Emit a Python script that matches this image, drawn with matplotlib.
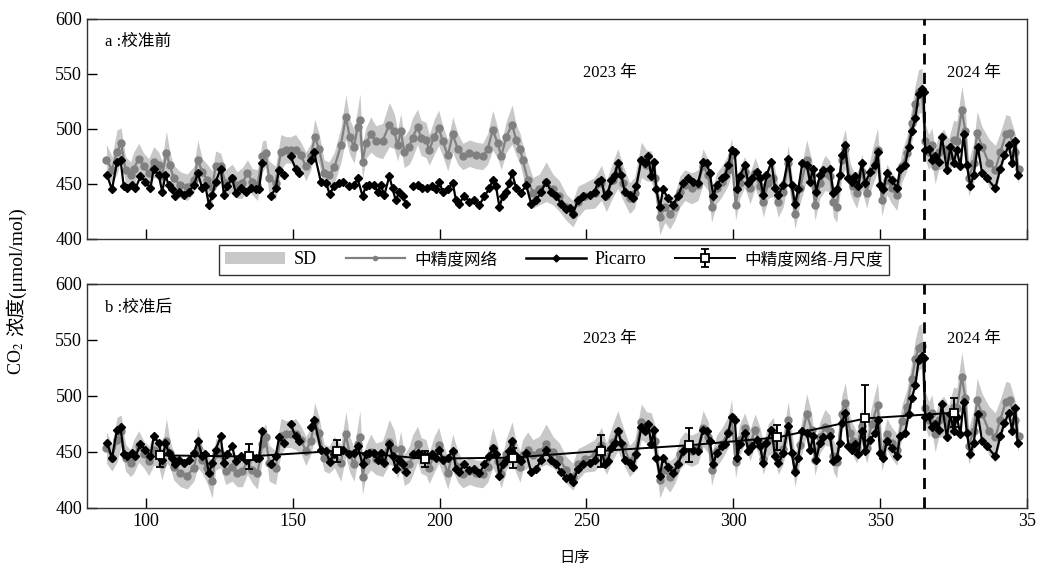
import numpy as np
import matplotlib
matplotlib.use("Agg")
import matplotlib.pyplot as plt
from matplotlib.patches import Patch
from matplotlib.lines import Line2D

plt.rcParams['font.family'] = ['Liberation Serif', 'Noto Sans CJK SC', 'DejaVu Sans']
plt.rcParams['mathtext.fontset'] = 'stix'

nan = np.nan

# Picarro daily values (day of year, continuing past 365 into 2024)
pic_day = [86.8, 88.5, 90.2, 91.4, 92.5, 93.6, 95.3, 96.5, 98.2, 99.9, 101.6, 102.7, 104.4, 105.6,
           106.7, 107.8, 109.0, 110.1, 111.3, 113.0, 114.7, 116.4, 117.7, 119.2, 120.3, 121.5, 122.6,
           123.8, 125.5, 126.6, 127.7, 129.4, 130.6, 132.3, 134.0, 135.7, 137.4, 138.5, 139.7, 141.0,
           142.5, 144.2, 145.4, 147.1, 148.0, 149.3, 151.0, 152.2, 154.0, 156.2, 157.3, 159.6, 161.3,
           162.6, 164.1, 165.8, 167.0, 168.0, 169.2, 170.9, 172.1, 173.8, 174.9, 176.0, 177.7, 178.9,
           180.0, 181.2, 182.9, 184.0, 185.1, 186.3, 187.4, 188.6, 189.7, 190.8, 192.5, 194.2, 195.9,
           197.6, 198.8, 199.9, 201.1, 202.8, 204.5, 205.6, 206.7, 208.4, 210.2, 211.9, 213.6, 215.3,
           217.0, 218.1, 219.2, 220.4, 221.5, 222.7, 223.8, 224.7, 226.1, 227.8, 229.5, 231.2, 232.9,
           234.6, 236.3, 238.0, 239.7, 241.4, 243.1, 244.3, 245.4, 247.1, 248.8, 251.1, 252.8, 254.0,
           255.1, 256.2, 257.3, 258.5, 259.6, 260.7, 261.9, 263.0, 264.7, 265.9, 267.0, 268.7, 269.8,
           271.0, 272.1, 273.0, 273.8, 275.0, 276.1, 277.8, 279.5, 281.2, 282.9, 284.6, 286.3, 288.0,
           289.7, 290.9, 292.0, 293.2, 294.3, 296.0, 297.1, 298.3, 299.4, 300.5, 301.4, 302.2, 303.9,
           305.1, 306.2, 307.9, 309.1, 310.2, 311.3, 313.0, 314.2, 315.3, 317.0, 318.7, 319.9, 321.0,
           322.1, 323.5, 325.0, 326.1, 327.2, 328.2, 329.5, 330.7, 332.9, 334.1, 335.2, 336.3, 337.0,
           338.1, 339.2, 340.3, 341.5, 342.6, 343.7, 344.9, 346.6, 348.3, 349.1, 350.0, 351.1, 352.3,
           354.0, 355.7, 356.8, 358.5, 359.7, 360.8, 362.0, 363.1, 364.2, 364.8, 365.3, 366.5, 367.6,
           368.7, 369.9, 371.0, 372.7, 373.9, 375.0, 376.1, 377.3, 378.4, 379.5, 380.7, 381.8, 383.2,
           384.7, 386.4, 389.2, 390.9, 392.3, 393.8, 394.9, 396.0, 396.8]
pic_val = [458, 445, 470, 472, 448, 446, 449, 446, 457, 452, 446, 464, 458, 443,
           458, 449, 445, 439, 443, 440, 443, 449, 460, 446, 448, 431, 440,
           452, 464, 440, 448, 455, 442, 446, 443, 446, 445, 445, 469, nan,
           439, 446, 463, 458, nan, 475, 464, 460, nan, 472, 479, 452, 451,
           441, 448, 451, 452, nan, 448, 449, 455, 439, 448, 449, 449, 443,
           449, 440, 457, 446, 435, 443, 439, 432, nan, 448, 449, 446, 446,
           448, 445, 452, 443, 445, 451, 435, 432, 439, 434, 435, 431, 439,
           446, 454, 448, 429, 439, 443, 451, 460, 446, 442, 449, 432, 435,
           443, 452, 443, 439, 432, 427, 428, 423, 435, 439, 440, 443, 452,
           454, 439, 442, 454, 458, 469, 458, 443, 440, 437, 448, 472, 469,
           475, 457, 470, 445, 429, 445, 437, 431, 439, 451, 455, 452, 451,
           470, 469, 460, 439, 449, 455, 457, 467, 481, 479, 445, 457, 467,
           451, 455, 461, 455, 440, 458, 470, 446, 440, 449, 473, 449, 432,
           445, 469, 467, 452, 464, 443, 458, 463, 464, 442, 445, 458, 476,
           485, 455, 452, 457, 448, 469, 451, 461, 467, 479, 449, 445, 460,
           454, 446, 464, 467, 484, 498, 510, 532, 536, 534, 481, 482, 472,
           475, 470, 493, 463, 484, 469, 481, 466, 495, 467, 448, 458, 484,
           460, 455, 446, 464, 476, 485, 469, 489, 458]

# 中精度网络 daily values, before (raw) and after (cal) calibration, with SD
net_day = [86.6, 88.5, 90.2, 91.6, 93.1, 94.8, 95.9, 97.6, 99.3, 101.0, 102.7, 104.4, 105.5, 107.0,
           108.2, 109.5, 111.8, 114.1, 116.4, 117.7, 119.2, 120.9, 122.6, 123.8, 125.5, 127.2, 129.4,
           131.1, 132.9, 134.6, 136.3, 138.0, 139.7, 140.8, 142.0, 144.2, 146.0, 147.6, 149.3, 151.0,
           152.8, 154.5, 156.2, 157.5, 159.0, 160.7, 162.4, 164.2, 166.4, 168.1, 169.4, 170.9, 172.1,
           172.9, 173.8, 174.9, 176.6, 178.3, 180.6, 182.9, 184.6, 185.7, 186.8, 188.0, 189.7, 190.8,
           192.5, 193.7, 195.4, 196.5, 198.2, 199.7, 201.1, 202.8, 204.5, 206.2, 207.9, 210.2, 212.4,
           214.7, 216.4, 218.1, 219.8, 221.0, 222.7, 224.7, 226.1, 227.4, 228.3, 230.0, 231.8, 234.0,
           236.3, 238.6, 240.8, 243.1, 245.4, 247.1, 249.4, 252.8, 255.1, 256.8, 259.0, 260.7, 262.5,
           264.7, 266.4, 268.7, 270.4, 272.1, 273.3, 275.0, 276.7, 278.4, 280.1, 281.8, 283.5, 285.8,
           288.0, 289.7, 291.5, 292.6, 294.3, 296.0, 298.3, 299.4, 300.8, 302.2, 303.9, 305.7, 307.4,
           309.1, 310.2, 311.9, 313.6, 315.3, 317.0, 318.7, 321.0, 322.7, 325.0, 326.7, 327.8, 329.5,
           331.2, 332.9, 334.1, 335.2, 336.9, 338.1, 339.8, 340.9, 342.0, 343.7, 345.4, 347.1, 349.1,
           350.6, 352.3, 354.0, 355.7, 357.4, 359.1, 360.8, 362.0, 363.1, 364.2, 365.3, 366.5, 367.6,
           368.7, 369.9, 371.6, 373.3, 375.0, 376.1, 377.8, 379.0, 380.1, 381.8, 383.0, 384.7, 387.0,
           389.2, 390.9, 392.8, 394.1, 396.0, 397.1]
net_raw = [472, 463, 479, 487, 463, 458, 464, 473, 466, 460, 470, 467, 457, 478,
           467, 455, 449, 447, 454, 472, 461, 454, 447, 466, 466, 451, 455,
           449, 451, 460, 452, 449, 475, 478, 455, 451, 479, 481, 481, 481,
           476, 466, 475, 493, 482, 460, 458, 465, 485, 511, 493, 484, 502,
           508, 470, 487, 495, 489, 489, 504, 498, 485, 498, 479, 484, 492,
           502, 492, 490, 481, 493, 501, 489, 476, 495, 482, 475, 478, 476,
           475, 482, 499, 487, 475, 493, 504, 490, 482, 472, 454, 442, 445,
           452, 445, 439, 429, 423, 434, 439, 442, 451, 439, 454, 464, 451,
           437, 442, 472, 467, 466, 455, 420, 429, 423, 429, 443, 449, 446,
           449, 466, 458, 429, 446, 452, 463, 476, 431, 451, 461, 446, 460,
           448, 434, 451, 455, 434, 443, 469, 423, 446, 472, 458, 431, 451,
           460, 457, 434, 429, 472, 482, 455, 448, 442, 461, 442, 463, 481,
           435, 454, 446, 440, 466, 478, 505, 523, 534, 535, 489, 479, 485,
           466, 479, 482, 475, 490, 489, 517, 498, 455, 469, 496, 484, 469,
           463, 479, 495, 496, 479, 464]
net_cal = [454, 445, 461, 469, 445, 440, 446, 455, 448, 442, 452, 449, 439, 460,
           449, 437, 431, 429, 436, 454, 443, 436, 424, 448, 448, 433, 437,
           431, 433, 442, 434, 431, 457, 463, 440, 436, 464, 466, 466, 466,
           461, 451, 460, 478, 467, 445, 443, 450, 440, 466, 448, 439, 457,
           463, 428, 442, 450, 444, 444, 459, 453, 440, 453, 434, 439, 447,
           457, 447, 445, 436, 448, 456, 444, 431, 450, 437, 430, 433, 431,
           430, 437, 454, 442, 430, 448, 459, 445, 437, 447, 452, 447, 450,
           457, 450, 444, 434, 428, 439, 444, 447, 456, 444, 459, 469, 456,
           442, 447, 477, 472, 471, 460, 425, 434, 428, 434, 448, 454, 451,
           454, 471, 463, 434, 451, 457, 468, 481, 441, 461, 471, 456, 470,
           458, 444, 461, 465, 444, 453, 479, 433, 456, 484, 470, 443, 463,
           472, 469, 446, 441, 484, 494, 467, 460, 454, 473, 454, 475, 492,
           447, 466, 458, 452, 478, 490, 515, 533, 543, 545, 489, 479, 485,
           466, 479, 482, 475, 490, 489, 517, 498, 455, 469, 496, 484, 469,
           463, 479, 495, 496, 479, 464]
net_sd = [14, 12, 20, 14, 12, 12, 15, 14, 12, 13, 14, 12, 14, 20,
          12, 12, 12, 12, 12, 18, 12, 14, 15, 14, 12, 12, 13,
          12, 14, 12, 12, 14, 14, 12, 16, 15, 16, 12, 12, 14,
          12, 13, 12, 16, 14, 12, 12, 14, 16, 20, 16, 15, 16,
          24, 16, 14, 16, 14, 16, 20, 16, 14, 16, 14, 16, 18,
          16, 16, 16, 14, 16, 16, 14, 14, 16, 14, 12, 12, 12,
          12, 14, 18, 14, 12, 14, 18, 14, 14, 14, 16, 14, 14,
          18, 14, 14, 12, 12, 14, 12, 14, 16, 14, 16, 18, 16,
          14, 14, 16, 14, 14, 14, 16, 14, 14, 12, 14, 14, 14,
          14, 16, 14, 14, 14, 14, 14, 16, 14, 14, 14, 14, 14,
          14, 14, 14, 16, 14, 14, 16, 14, 14, 18, 14, 14, 14,
          16, 14, 14, 14, 16, 18, 14, 14, 14, 16, 14, 16, 20,
          14, 14, 14, 14, 14, 16, 16, 18, 20, 20, 16, 16, 16,
          16, 16, 18, 16, 18, 18, 22, 20, 16, 18, 20, 18, 22,
          22, 18, 18, 16, 16, 14]

# 中精度网络 monthly means (calibrated)
mon_day = [105, 135, 165, 195, 225, 255, 285, 315, 345, 375]
mon_val = [447, 446, 451, 444, 445, 451, 456, 463, 480, 485]
mon_err = [10, 11, 10, 7, 9, 14, 15, 11, 30, 13]

xticks = [100, 150, 200, 250, 300, 350, 400]
xtick_labels = ['100', '150', '200', '250', '300', '350', '35']

net_day = np.array(net_day)
net_raw = np.array(net_raw, float)
net_cal = np.array(net_cal, float)
net_sd = np.array(net_sd, float)

band_c = '#c8c8c8'
net_c = '#808080'

fig = plt.figure(figsize=(10.41, 5.72), dpi=100)
ax1 = fig.add_axes([0.0836, 0.5822, 0.903, 0.3846])
ax2 = fig.add_axes([0.0836, 0.1119, 0.903, 0.3916])

for ax, net, tag in [(ax1, net_raw, 'a :校准前'), (ax2, net_cal, 'b :校准后')]:
    ax.fill_between(net_day, net - net_sd, net + net_sd, color=band_c, lw=0, zorder=1)
    ax.plot(net_day, net, color=net_c, lw=1.6, marker='o', ms=5, zorder=2)
    ax.plot(pic_day, pic_val, color='black', lw=1.6, marker='D', ms=4, zorder=3)
    ax.axvline(365, color='black', lw=2, ls=(0, (4, 3)), zorder=4)
    ax.set_xlim(80, 400)
    ax.set_ylim(400, 600)
    ax.set_yticks([400, 450, 500, 550, 600])
    ax.set_xticks(xticks)
    ax.tick_params(direction='in', length=7, width=1, labelsize=13)
    for s in ax.spines.values():
        s.set_linewidth(1.0)
        s.set_color('#333333')
    ax.text(0.019, 0.895, tag, transform=ax.transAxes, fontsize=12, va='center', ha='left')
    ax.text(258, 551, '2023 年', fontsize=12, ha='center', va='center')
    ax.text(382, 551, '2024 年', fontsize=12, ha='center', va='center')

ax1.set_xticklabels([])
ax2.set_xticklabels(xtick_labels)

eb = ax2.errorbar(mon_day, mon_val, yerr=mon_err, color='black', lw=1.4, marker='s', ms=6,
                  mfc='white', mec='black', mew=1.3, capsize=3, elinewidth=1.4, zorder=5)

handles = [Patch(facecolor=band_c, edgecolor='none'),
           Line2D([], [], color=net_c, lw=1.6, marker='o', ms=3),
           Line2D([], [], color='black', lw=1.8, marker='D', ms=3.5),
           eb]
labels = ['SD', '中精度网络', 'Picarro', '中精度网络-月尺度']
leg = fig.legend(handles, labels, loc='center', bbox_to_anchor=(0.532, 0.5455), ncol=4,
                 fontsize=13, frameon=True, fancybox=False, handlelength=3.3,
                 handletextpad=0.5, columnspacing=1.6, borderpad=0.35)
leg.get_frame().set_edgecolor('black')
leg.get_frame().set_linewidth(1.0)
for t in leg.get_texts():
    if t.get_text() not in ('SD', 'Picarro'):
        t.set_fontsize(12)

# y label: mathtext part and CJK part drawn as two pieces along one baseline
t1 = fig.text(0.021, 0.345, 'CO$_2$', rotation=90, rotation_mode='anchor',
              ha='left', va='baseline', fontsize=13)
fig.canvas.draw()
bb = t1.get_window_extent()
y_next = fig.transFigure.inverted().transform((0, bb.y1 + 5))[1]
fig.text(0.021, y_next, '浓度(μmol/mol)', rotation=90, rotation_mode='anchor',
         ha='left', va='baseline', fontsize=14)

fig.text(0.552, 0.025, '日序', ha='center', va='center', fontsize=11)

fig.savefig('out.png', dpi=100)
